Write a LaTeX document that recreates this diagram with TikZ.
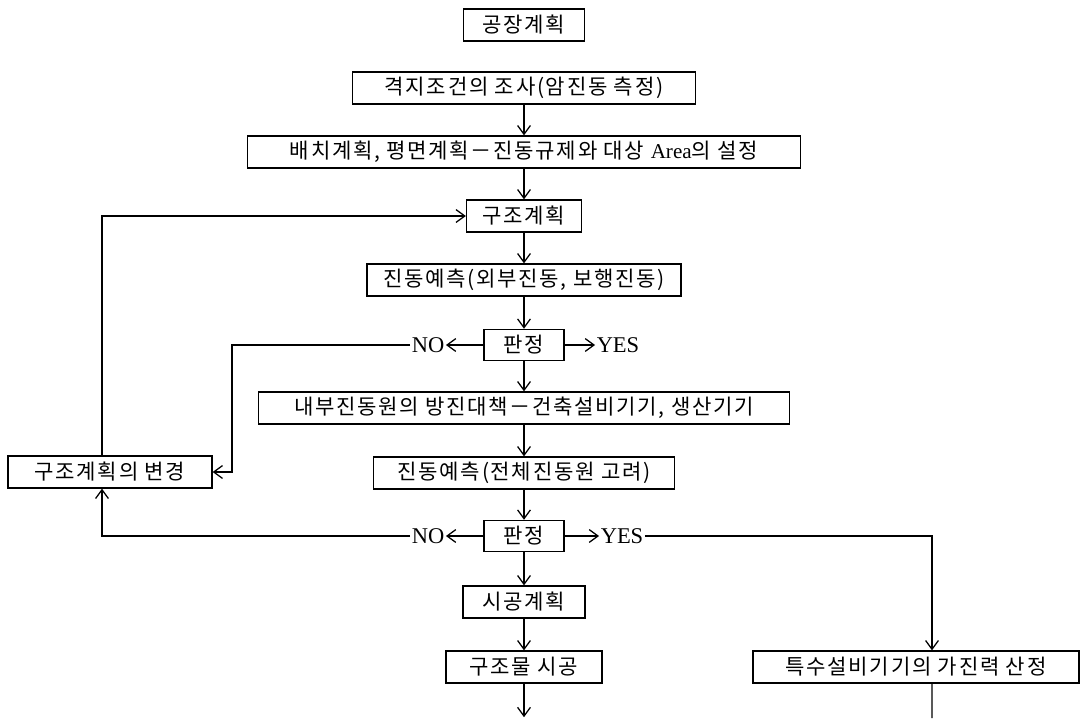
\documentclass[tikz,border=0pt]{standalone}
\usepackage{fontspec}
\setmainfont{Liberation Serif}
\newfontfamily\kr[LetterSpace=8]{Noto Sans CJK KR}
\usetikzlibrary{arrows.meta}

\begin{document}
\begin{tikzpicture}[
        box/.style={rectangle, draw, line width=0.9pt, minimum height=8mm, inner sep=2pt, font=\kr\fontsize{15}{17}\selectfont},
        judge/.style={rectangle, draw, line width=0.9pt, minimum height=7.8mm, minimum width=2cm, inner sep=2pt, font=\kr\fontsize{15}{17}\selectfont},
        answer/.style={inner sep=1pt, font=\fontsize{16}{18}\selectfont},
        arrow/.style={line width=0.9pt, -{Straight Barb[length=2.2mm,width=3.2mm]}},
        line/.style={line width=0.9pt}
    ]

    % fix page size
    \useasboundingbox (0,0) rectangle (27.1,-17.95);

    % main column
    \node[box, minimum width=3.025cm] (plan) at (13.1,-0.625) {공장계획};
    \node[box, minimum width=8.575cm] (survey) at (13.1,-2.2) {격지조건의 조사(암진동 측정)};
    \node[box, minimum width=13.825cm] (layout) at (13.1,-3.8) {배치계획, 평면계획－진동규제와 대상 {\rmfamily Area}의 설정};
    \node[box, minimum width=2.875cm] (struct) at (13.1,-5.4) {구조계획};
    \node[box, minimum width=7.85cm] (predA) at (13.1,-7.0) {진동예측(외부진동, 보행진동)};
    \node[judge] (judgeA) at (13.1,-8.625) {판정};
    \node[box, minimum width=13.275cm] (inner) at (13.1,-10.2) {내부진동원의 방진대책－건축설비기기, 생산기기};
    \node[box, minimum width=7.525cm] (predB) at (13.1,-11.825) {진동예측(전체진동원 고려)};
    \node[judge] (judgeB) at (13.1,-13.4) {판정};
    \node[box, minimum width=3.05cm] (work) at (13.1,-15.05) {시공계획};
    \node[box, minimum width=3.9cm] (build) at (13.1,-16.675) {구조물 시공};

    % side boxes
    \node[box, minimum width=5.1cm] (change) at (2.75,-11.8) {구조계획의 변경};
    \node[box, minimum width=8.15cm] (special) at (22.9,-16.675) {특수설비기기의 가진력 산정};

    % answers
    \node[answer] (noA) at (10.7,-8.625) {NO};
    \node[answer] (yesA) at (15.45,-8.625) {YES};
    \node[answer] (noB) at (10.7,-13.4) {NO};
    \node[answer] (yesB) at (15.55,-13.4) {YES};

    \coordinate (turnA) at (5.8,-8.625);
    \coordinate (outA) at (13.1,-17.93);
    \coordinate (outB) at (23.3,-17.95);

    % main flow
    \draw[arrow] (survey) -- (layout);
    \draw[arrow] (layout) -- (struct);
    \draw[arrow] (struct) -- (predA);
    \draw[arrow] (predA) -- (judgeA);
    \draw[arrow] (judgeA) -- (inner);
    \draw[arrow] (inner) -- (predB);
    \draw[arrow] (predB) -- (judgeB);
    \draw[arrow] (judgeB) -- (work);
    \draw[arrow] (work) -- (build);
    \draw[arrow] (build) -- (outA);

    % judgement branches
    \draw[arrow] (judgeA) -- (noA);
    \draw[arrow] (judgeA) -- (yesA);
    \draw[arrow] (judgeB) -- (noB);
    \draw[arrow] (judgeB) -- (yesB);

    % loops back
    \draw[arrow] (noA.west) -- (turnA) |- (change.east);
    \draw[arrow] (noB.west) -| ([xshift=-2mm]change.south);
    \draw[arrow] ([xshift=-2mm]change.north) |- (struct.west);
    \draw[arrow] (yesB.east) -| ([xshift=4mm]special.north);
    \draw[line] ([xshift=4mm]special.south) -- (outB);

\end{tikzpicture}
\end{document}
